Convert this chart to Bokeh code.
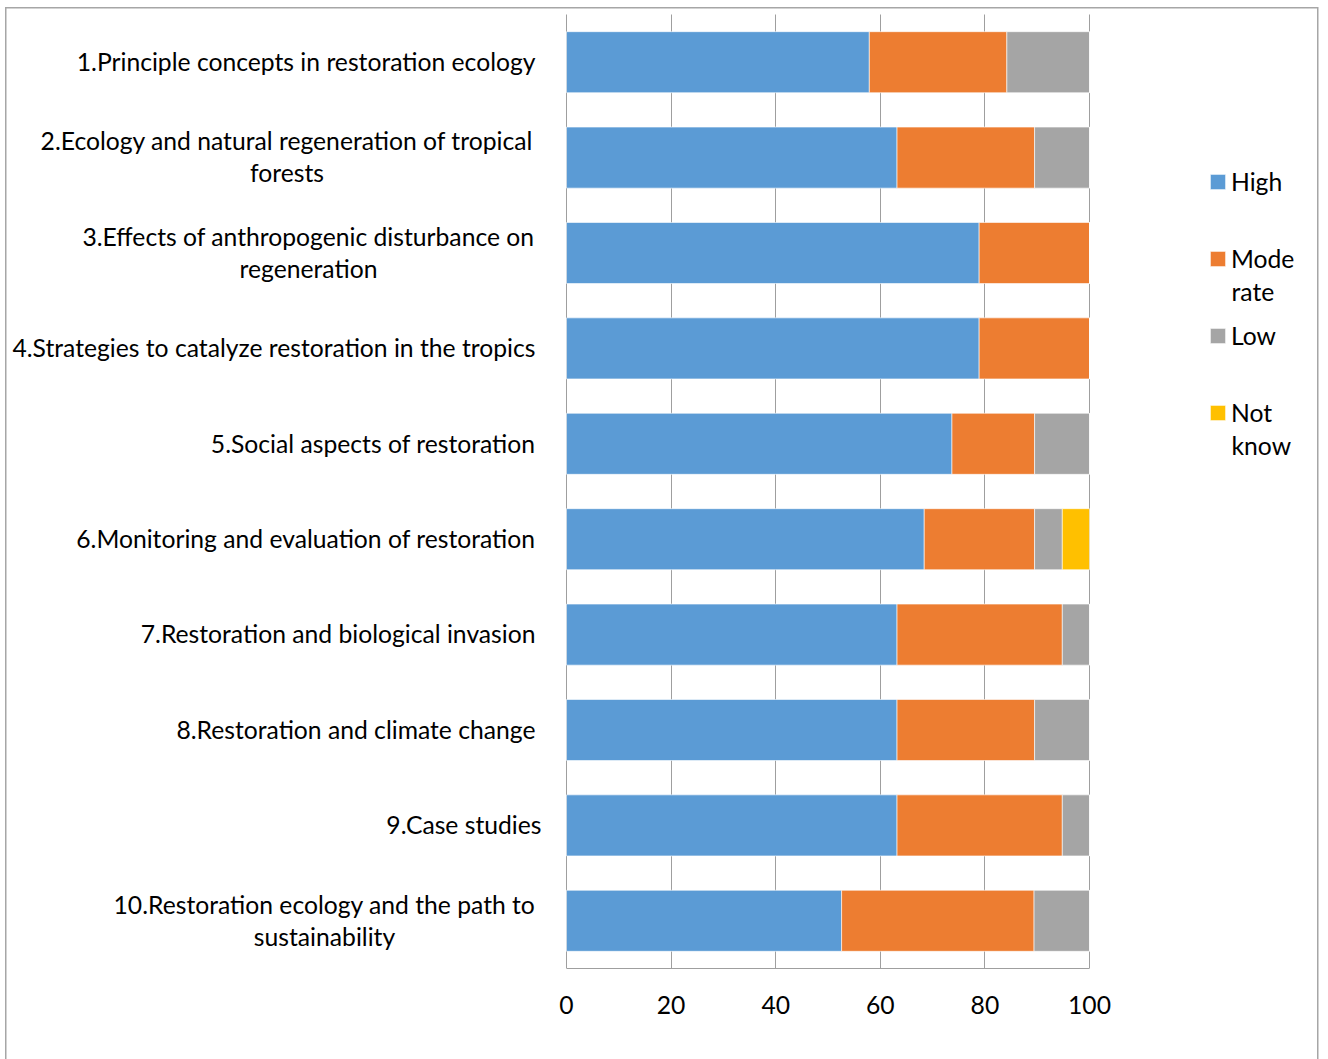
from bokeh.plotting import figure
from bokeh.models import (Range1d, Legend, LegendItem, ColumnDataSource,
                          FixedTicker)
from bokeh.core.properties import value
from bokeh.embed import file_html
from bokeh.resources import INLINE

# Survey topics (top to bottom) and share of answers per rating, in percent
topics = [
    "1.Principle concepts in restoration ecology",
    "2.Ecology and natural regeneration of tropical\nforests",
    "3.Effects of anthropogenic disturbance on\nregeneration",
    "4.Strategies to catalyze restoration in the tropics",
    "5.Social aspects of restoration",
    "6.Monitoring and evaluation of restoration",
    "7.Restoration and biological invasion",
    "8.Restoration and climate change",
    "9.Case studies",
    "10.Restoration ecology and the path to\nsustainability",
]
high = [57.9, 63.2, 78.9, 78.9, 73.7, 68.4, 63.2, 63.2, 63.2, 52.6]
moderate = [26.3, 26.3, 21.1, 21.1, 15.8, 21.1, 31.6, 26.3, 31.6, 36.8]
low = [15.8, 10.5, 0.0, 0.0, 10.5, 5.3, 5.2, 10.5, 5.2, 10.6]
not_know = [0.0, 0.0, 0.0, 0.0, 0.0, 5.2, 0.0, 0.0, 0.0, 0.0]
series_labels = ["High", "Mode\nrate", "Low", "Not\nknow"]
series_colors = ["#5B9BD5", "#ED7D31", "#A5A5A5", "#FFC000"]
x_ticks = [0, 20, 40, 60, 80, 100]

FONT = "Lato"
FSIZE = "24.7px"
GRID = "#9F9F9F"
TEXT = "#000000"
FRAME = "#A6A6A6"

# page geometry (pixels)
W, H = 1328, 1059
PLOT_L, PLOT_R = 566, 1089      # where 0 and 100 fall
PLOT_T, PLOT_B = 14, 968        # top of first band, axis line

n = len(topics)
ypos = list(range(n, 0, -1))    # first topic on top

px_x = (PLOT_R - PLOT_L) / 100.0
px_y = (PLOT_B - PLOT_T) / n
x_range = Range1d(-PLOT_L / px_x, (W - PLOT_L) / px_x)
y_top = n + 0.5 + PLOT_T / px_y
y_range = Range1d(0.5, y_top)


def px_to_x(px):
    return (px - PLOT_L) / px_x


def px_to_y(py):
    return y_top - py / px_y


p = figure(width=W, height=H, x_range=x_range, y_range=y_range,
           output_backend="svg", toolbar_location=None,
           min_border_left=0, min_border_right=0,
           min_border_top=0, min_border_bottom=H - PLOT_B)
p.outline_line_color = None
p.background_fill_color = None
p.border_fill_color = None

# outer chart border (top, left and right edges)
edge = f"linear-gradient({FRAME},{FRAME})"
p.styles = {
    "background": (f"{edge} 5px 7px / 1313px 1.5px no-repeat, "
                   f"{edge} 5px 7px / 1.5px {H}px no-repeat, "
                   f"{edge} 1317px 7px / 1.5px {H}px no-repeat, white"),
}

p.yaxis.visible = False
p.ygrid.visible = False

p.xgrid.ticker = FixedTicker(ticks=x_ticks)
p.xgrid.bounds = (0, 100)
p.xgrid.cross_bounds = (0.5, n + 0.5)
p.xgrid.grid_line_color = GRID
p.xgrid.grid_line_width = 1
p.xaxis.ticker = FixedTicker(ticks=x_ticks)
p.xaxis.bounds = (0, 100)
p.xaxis.axis_line_color = GRID
p.xaxis.major_tick_line_color = None
p.xaxis.minor_tick_line_color = None
p.xaxis.major_label_text_font = FONT
p.xaxis.major_label_text_font_size = FSIZE
p.xaxis.major_label_text_color = TEXT
p.xaxis.major_label_standoff = 21

src = ColumnDataSource(dict(y=ypos, high=high, moderate=moderate,
                            low=low, not_know=not_know))
bars = p.hbar_stack(["high", "moderate", "low", "not_know"], y="y",
                    height=0.64, color=series_colors, line_color="white",
                    line_width=0.6, source=src)

# category labels left of the bars; wrapped ones centred line by line
line_gap = 16 / px_y
wrapped_centers = {1: 286.5, 2: 308, 9: 324}
right_edge = {8: 541}
lab = dict(x=[], y=[], text=[], align=[])
for i, (topic, yv) in enumerate(zip(topics, ypos)):
    lines = topic.split("\n")
    if len(lines) == 1:
        lab["x"].append(px_to_x(right_edge.get(i, 535)))
        lab["y"].append(yv + 0.8 / px_y)
        lab["text"].append(topic)
        lab["align"].append("right")
    else:
        for k, ln in enumerate(lines):
            lab["x"].append(px_to_x(wrapped_centers[i]))
            lab["y"].append(yv + 0.8 / px_y + line_gap * (1 - 2 * k))
            lab["text"].append(ln)
            lab["align"].append("center")
p.text(x="x", y="y", text="text", text_align="align", source=ColumnDataSource(lab),
       text_baseline="middle", text_font=value(FONT), text_font_size=FSIZE,
       text_color=TEXT)

# legend: the swatch sits beside the first line of each entry, any
# further lines of a wrapped entry run on underneath it
SWATCH = 15                       # visible swatch size
GLYPH = round(SWATCH / 0.8)       # legend insets area glyphs by 10% per side
LEG_X, LEG_TOP, ITEM_H, ITEM_GAP, LINE_H = 1208, 166, 30, 47, 33
TEXT_X = 1231
first_lines = [s.split("\n")[0] for s in series_labels]
legend = Legend(items=[LegendItem(label=s, renderers=[r])
                       for s, r in zip(first_lines, bars)],
                location=(LEG_X, PLOT_B - LEG_TOP - 4 * ITEM_H - 3 * ITEM_GAP),
                orientation="vertical",
                glyph_width=GLYPH, glyph_height=GLYPH, label_height=ITEM_H,
                label_standoff=TEXT_X - LEG_X - GLYPH, spacing=ITEM_GAP,
                padding=0, margin=0,
                border_line_color=None, background_fill_alpha=0,
                label_text_font=FONT, label_text_font_size=FSIZE,
                label_text_color=TEXT)
p.add_layout(legend)

more = dict(x=[], y=[], text=[])
for j, s in enumerate(series_labels):
    centre = LEG_TOP + ITEM_H / 2 + j * (ITEM_H + ITEM_GAP)
    for k, ln in enumerate(s.split("\n")[1:], start=1):
        more["x"].append(px_to_x(TEXT_X))
        more["y"].append(px_to_y(centre + k * LINE_H))
        more["text"].append(ln)
p.text(x="x", y="y", text="text", source=ColumnDataSource(more),
       text_align="left", text_baseline="middle", text_font=value(FONT),
       text_font_size=FSIZE, text_color=TEXT)

open("out.html", "w").write(file_html(p, INLINE))
